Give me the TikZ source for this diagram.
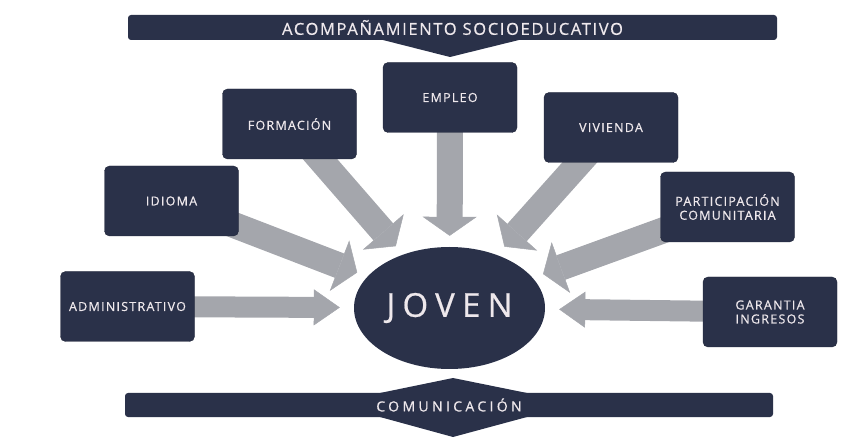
\documentclass[tikz,border=0pt]{standalone}
\usepackage{fontspec}
\newfontfamily\diafont[LetterSpace=10,FakeBold=0.6]{Open Sans}
\usetikzlibrary{shapes,backgrounds,arrows.meta}
\definecolor{navy}{HTML}{2A3149}
\definecolor{flecha}{HTML}{A4A6AC}
\definecolor{letra}{HTML}{EEE8EC}
\tikzset{
  band/.style={rectangle,rounded corners=3pt,fill=navy,text=letra,minimum height=25pt,
    font=\diafont\fontsize{16.5}{18}\selectfont},
  flechagrande/.style={draw=flecha,line width=26pt,shorten >=11pt,
    -{Triangle[width=54pt,length=19pt,line width=0.5pt]}},
  flechachica/.style={draw=flecha,line width=21pt,shorten >=14pt,
    -{Triangle[width=36pt,length=26pt,line width=0.5pt]}}
}

\begin{document}
\begin{tikzpicture}[x=1pt,y=-1pt]
\useasboundingbox (0,0) rectangle (846,443);

	\begin{scope}[every node/.style={rectangle,rounded corners=5pt,fill=navy,draw=navy!80!black,
	  text=letra,align=center,minimum width=134pt,minimum height=70pt,
	  font=\diafont\fontsize{12.5}{14}\selectfont}]
		\node (empleo) at (450,97.5) {EMPLEO};
		\node (formacion) at (289.5,124) {FORMACIÓN};
		\node (idioma) at (171.5,201) {IDIOMA};
		\node (administrativo) at (127.5,306.5) {ADMINISTRATIVO};
		\node (vivienda) at (611,127.5) {VIVIENDA};
		\node (participacion) at (727.5,207) {PARTICIPACIÓN\\COMUNITARIA};
		\node (garantia) at (770,312) {GARANTIA\\INGRESOS};
	\end{scope}

	\node[ellipse,fill=navy,text=letra,inner sep=0pt,minimum width=191pt,minimum height=122pt,
	  font=\diafont\addfontfeature{LetterSpace=22}\fontsize{33}{35}\selectfont] (joven) at (449.5,308) {JOVEN};

	\node[band,minimum width=649pt] (acompanamiento) at (452.5,27.5) {ACOMPAÑAMIENTO SOCIOEDUCATIVO};
	\node[band,minimum width=648pt,minimum height=24pt,
	  font=\diafont\addfontfeature{LetterSpace=24}\fontsize{14}{15}\selectfont]
	  (comunicacion) at (449,405) {COMUNICACIÓN};

	\begin{scope}[on background layer]
		% flechas hacia el joven
		\foreach \b in {empleo,formacion,idioma,vivienda,participacion}
			\draw[flechagrande] (\b.center) -- (joven);
		\foreach \b in {administrativo,garantia}
			\draw[flechachica] (\b.center) -- (joven);
		% puntas de las bandas
		\fill[navy] (375,38) -- (527,38) -- (450,57) -- cycle;
		\fill[navy] (380,393) -- (453,378) -- (527,393) -- (527,417) -- (453,437) -- (380,417) -- cycle;
	\end{scope}

\end{tikzpicture}
\end{document}
